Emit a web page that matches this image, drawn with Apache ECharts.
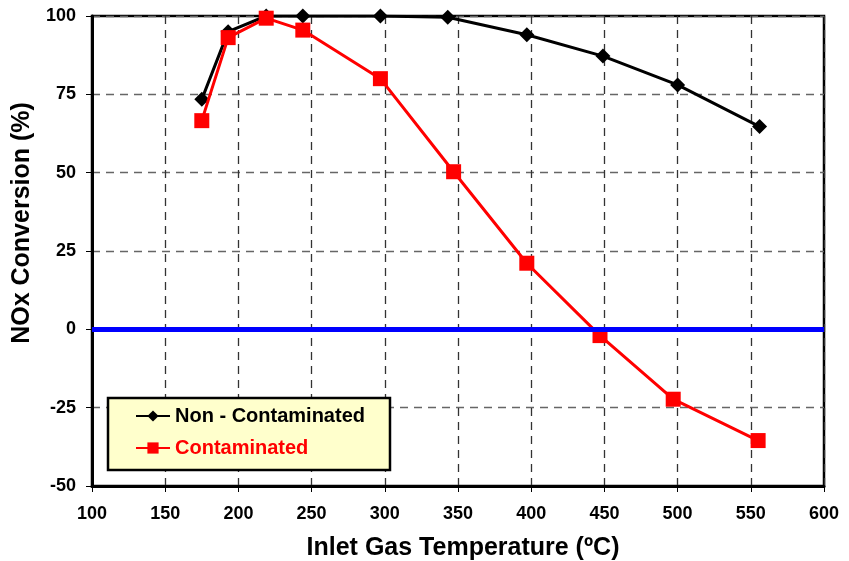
<!DOCTYPE html>
<html>
<head>
<meta charset="utf-8">
<script src="https://cdn.jsdelivr.net/npm/echarts@6/dist/echarts.min.js"></script>
<style>
  html, body { margin: 0; padding: 0; background: #fff; }
  #chart { width: 849px; height: 561px; }
</style>
</head>
<body>
<div id="chart"></div>
<script>
// Inlet gas temperature (ºC) and NOx conversion (%) for each catalyst condition
const tempsClean = [175, 193, 219, 244, 297, 343, 397, 449, 500, 556];
const convClean  = [73.4, 95.0, 100, 100, 100, 99.6, 94.0, 87.2, 78.0, 64.7];

const tempsContam = [175, 193, 219, 244, 297, 347, 397, 447, 497, 555];
const convContam  = [66.6, 93.1, 99.3, 95.5, 80.0, 50.3, 21.1, -2.0, -22.3, -35.5];

const zeroLevel = 0;

const FONT = '"Liberation Sans", Arial, sans-serif';

const pairs = (xs, ys) => xs.map((x, i) => [x, ys[i]]);

const chart = echarts.init(document.getElementById('chart'), null, { renderer: 'canvas' });

chart.setOption({
  animation: false,
  backgroundColor: '#ffffff',
  grid: {
    left: 92, right: 25, top: 16, bottom: 75,
    outerBoundsMode: 'none',
    containLabel: false,
    show: true, borderColor: '#000', borderWidth: 2.5, backgroundColor: 'transparent'
  },
  legend: {
    orient: 'vertical',
    left: 108, top: 398,
    backgroundColor: '#FFFFCC',
    borderColor: '#000', borderWidth: 2.5,
    padding: [8, 25, 12, 27],
    itemGap: 12,
    itemWidth: 34, itemHeight: 14,
    textStyle: { fontFamily: FONT, fontWeight: 'bold', fontSize: 20 },
    data: [
      { name: 'Non - Contaminated', textStyle: { color: '#000000' } },
      { name: 'Contaminated', textStyle: { color: '#FF0000' } }
    ]
  },
  xAxis: {
    type: 'value', min: 100, max: 600, interval: 50,
    name: 'Inlet Gas Temperature (ºC)', nameLocation: 'middle', nameGap: 50,
    nameTextStyle: { fontFamily: FONT, fontWeight: 'bold', fontSize: 25, color: '#000', padding: [0, 0, 0, 10] },
    axisLine: { onZero: false, lineStyle: { color: '#000', width: 3 } },
    axisTick: { show: true, inside: false, length: 6, lineStyle: { color: '#000', width: 1 } },
    axisLabel: { fontFamily: FONT, fontWeight: 'bold', fontSize: 18, color: '#000', margin: 19 },
    splitLine: { show: true, lineStyle: { color: '#333', width: 1.3, type: [8, 6] } }
  },
  yAxis: {
    type: 'value', min: -50, max: 100, interval: 25,
    name: 'NOx Conversion (%)', nameLocation: 'middle', nameGap: 49,
    nameTextStyle: { fontFamily: FONT, fontWeight: 'bold', fontSize: 25, color: '#000', padding: [0, 0, 0, 56] },
    axisLine: { onZero: false, lineStyle: { color: '#000', width: 3 } },
    axisTick: { show: true, inside: false, length: 6, lineStyle: { color: '#000', width: 1 } },
    axisLabel: { fontFamily: FONT, fontWeight: 'bold', fontSize: 18, color: '#000', margin: 16 },
    splitLine: { show: true, lineStyle: { color: '#666', width: 1.3, type: [8, 6] } }
  },
  series: [
    {
      name: 'Non - Contaminated',
      type: 'line',
      data: pairs(tempsClean, convClean),
      symbol: 'diamond', symbolSize: 15,
      lineStyle: { color: '#000', width: 3 },
      itemStyle: { color: '#000' },
      z: 3
    },
    {
      name: 'Contaminated',
      type: 'line',
      data: pairs(tempsContam, convContam),
      symbol: 'rect', symbolSize: 15,
      lineStyle: { color: '#FF0000', width: 3 },
      itemStyle: { color: '#FF0000' },
      z: 4,
      markLine: {
        silent: true,
        symbol: 'none',
        label: { show: false },
        lineStyle: { color: '#0000FF', width: 5, type: 'solid' },
        data: [{ yAxis: zeroLevel }]
      }
    }
  ]
});
</script>
</body>
</html>
